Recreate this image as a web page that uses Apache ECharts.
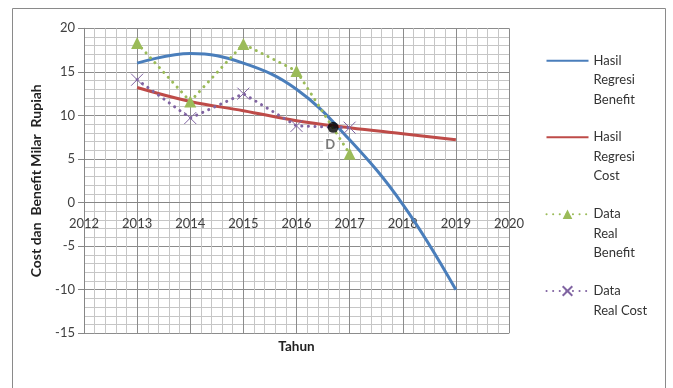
<!DOCTYPE html>
<html><head><meta charset="utf-8">
<script src="https://cdn.jsdelivr.net/npm/echarts@6/dist/echarts.min.js"></script>
<style>html,body{margin:0;padding:0;background:#fff}#c{width:673px;height:388px}</style>
</head><body><div id="c"></div>
<script>
var years = [2013, 2014, 2015, 2016, 2017, 2018, 2019];
var realYears = [2013, 2014, 2015, 2016, 2017];
var regBenefit = [16.0, 17.1, 16.0, 13.0, 7.2, -0.2, -10.0];
var regCost = [13.2, 11.6, 10.55, 9.4, 8.6, 7.9, 7.2];
var realBenefit = [18.3, 11.6, 18.2, 15.1, 5.6];
var realCost = [14.1, 9.7, 12.5, 8.8, 8.6];
var pointD = [2016.69, 8.64];
var xTicks = {min: 2012, max: 2020, interval: 1};
var yTicks = {min: -15, max: 20, interval: 5};
var names = ['Hasil Regresi Benefit', 'Hasil Regresi Cost', 'Data Real Benefit', 'Data Real Cost'];
var legendLabels = ['\n\nHasil\nRegresi\nBenefit', '\n\nHasil\nRegresi\nCost', '\n\nData\nReal\nBenefit', '\nData\nReal Cost'];

function pairs(xs, ys) { return xs.map(function (x, i) { return [x, ys[i]]; }); }

var FONT = 'Lato';
var chart = echarts.init(document.getElementById('c'));
function legendFor(i, top, hideSymbol) {
  var item = {name: names[i]};
  if (hideSymbol) item.itemStyle = {color: 'rgba(0,0,0,0)', borderWidth: 0, borderColor: 'rgba(0,0,0,0)'};
  return {
    data: [item], orient: 'vertical', left: 545.5, top: top, padding: 0,
    itemWidth: 42, itemHeight: 12, itemGap: 0,
    textStyle: {fontFamily: FONT, fontSize: 13, color: '#333', lineHeight: 19.5},
    formatter: function () { return legendLabels[i]; },
    selectedMode: false
  };
}
var option = {
  animation: false,
  backgroundColor: '#fff',
  graphic: [{type: 'rect', shape: {x: 12.5, y: 8.5, width: 653, height: 400}, style: {fill: 'none', stroke: '#8a8a8a', lineWidth: 1}, silent: true}],
  grid: {left: 84, right: 164, top: 28.3, bottom: 54.7, containLabel: false, outerBoundsMode: 'none'},
  legend: [
    legendFor(0, 60.7 - 48.75, true),
    legendFor(1, 137.3 - 48.75, true),
    legendFor(2, 214.3 - 48.75, false),
    legendFor(3, 291 - 29.25, false)
  ],
  xAxis: {
    type: 'value', min: xTicks.min, max: xTicks.max, interval: xTicks.interval,
    offset: -130.7,
    axisLine: {show: true, onZero: false, lineStyle: {color: '#868686', width: 1}},
    axisTick: {show: false},
    axisLabel: {fontFamily: FONT, fontSize: 13, color: '#404040', margin: 15, formatter: function (v) { return String(v); }},
    splitLine: {show: true, lineStyle: {color: '#8c8c8c', width: 1}},
    minorTick: {show: false, splitNumber: 5},
    minorSplitLine: {show: true, lineStyle: {color: '#c6c6c6', width: 1}},
    name: 'Tahun', nameLocation: 'middle', nameGap: 137,
    nameTextStyle: {fontFamily: FONT, fontSize: 13.5, fontWeight: 'bold', color: '#222'}
  },
  yAxis: {
    type: 'value', min: yTicks.min, max: yTicks.max, interval: yTicks.interval,
    axisLine: {show: true, lineStyle: {color: '#868686', width: 1}},
    axisTick: {show: true, length: 6, lineStyle: {color: '#868686'}},
    axisLabel: {fontFamily: FONT, fontSize: 13, color: '#404040', margin: 9},
    splitLine: {show: true, lineStyle: {color: '#8c8c8c', width: 1}},
    minorTick: {show: false, splitNumber: 5},
    minorSplitLine: {show: true, lineStyle: {color: '#c6c6c6', width: 1}},
    name: 'Cost dan  Benefit Milar  Rupiah', nameLocation: 'middle', nameGap: 41, nameRotate: 90,
    nameTextStyle: {fontFamily: FONT, fontSize: 14, fontWeight: 'bold', color: '#222'}
  },
  series: [
    {name: names[0], type: 'line', smooth: 0.4, data: pairs(years, regBenefit), showSymbol: false, symbol: 'circle',
     lineStyle: {color: '#4a7ebb', width: 3}, itemStyle: {color: '#4a7ebb'}, z: 3},
    {name: names[1], type: 'line', smooth: 0.4, data: pairs(years, regCost), showSymbol: false, symbol: 'circle',
     lineStyle: {color: '#be4b48', width: 3}, itemStyle: {color: '#be4b48'}, z: 3},
    {name: names[2], type: 'line', data: pairs(realYears, realBenefit), symbol: 'triangle', symbolSize: 12,
     lineStyle: {color: '#9bbb59', width: 3, type: [0.1, 6.5], cap: 'round'}, itemStyle: {color: '#9bbb59'}, z: 4},
    {name: names[3], type: 'line', data: pairs(realYears, realCost), symbol: 'path://M0,0L10,10M10,0L0,10', symbolSize: 12,
     lineStyle: {color: '#8064a2', width: 3, type: [0.1, 6.5], cap: 'round'},
     itemStyle: {color: 'none', borderColor: '#8064a2', borderWidth: 1}, z: 4},
    {name: 'D', type: 'scatter', data: [pointD], symbolSize: 11, itemStyle: {color: '#000'}, z: 6,
     label: {show: true, formatter: 'D', position: 'inside', offset: [-3, 18], fontFamily: FONT, fontSize: 13,
       fontWeight: 'bold', color: '#595959', backgroundColor: '#fff', padding: [1, 2]}}
  ]
};
chart.setOption(option);
</script></body></html>
